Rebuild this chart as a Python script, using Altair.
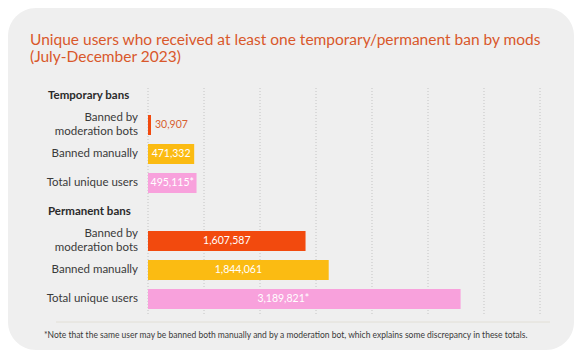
import altair as alt
import pandas as pd

# ---- data ----
groups = ["Temporary bans", "Permanent bans"]
categories = ["Banned by moderation bots", "Banned manually", "Total unique users"]
cat_labels = ["Banned by\nmoderation bots", "Banned manually", "Total unique users"]
temporary = [30907, 471332, 495115]
permanent = [1607587, 1844061, 3189821]
temp_labels = ["30,907", "471,332", "495,115*"]
perm_labels = ["1,607,587", "1,844,061", "3,189,821*"]
grid_values = [0, 571429, 1142857, 1714286, 2285714, 2857143, 3428571, 4000000]
colors = ["#f24a0e", "#fbbb12", "#f8a1dc"]

title_lines = ["Unique users who received at least one temporary/permanent ban by mods",
               "(July-December 2023)"]
footnote = ("*Note that the same user may be banned both manually and by a moderation bot, "
            "which explains some discrepancy in these totals.")

# ---- build table ----
rows = []
order = []
for g, vals, labs in [(groups[0], temporary, temp_labels), (groups[1], permanent, perm_labels)]:
    order.append(g)
    rows.append({"row": g, "kind": "header", "label": g, "cat": None, "value": None, "vlabel": None})
    for c, cl, v, vl in zip(categories, cat_labels, vals, labs):
        key = g + "|" + c
        order.append(key)
        rows.append({"row": key, "kind": "bar", "label": cl, "cat": c, "value": v, "vlabel": vl})
df = pd.DataFrame(rows)

FONT = "Lato"
W, H = 392, 227

xscale = alt.Scale(domain=[0, 4000000], nice=False, zero=True)
yenc = alt.Y("row:N", sort=order,
             scale=alt.Scale(domain=order, range=[-2, 221], paddingInner=0.31, paddingOuter=0),
             axis=None)

base = alt.Chart(df)

bg = alt.Chart(alt.Data(values=[{"a": 1}])).mark_rect(
    cornerRadius=28, fill="#efefef"
).encode(x=alt.value(-140), x2=alt.value(426), y=alt.value(-80), y2=alt.value(262))

grid = alt.Chart(pd.DataFrame({"g": grid_values})).mark_rule(
    color="#c4c4c4", strokeDash=[1, 2], strokeWidth=1
).encode(x=alt.X("g:Q", scale=xscale, axis=None), y=alt.value(0), y2=alt.value(H))

bars = base.transform_filter("datum.kind == 'bar'").mark_bar(height=20).encode(
    x=alt.X("value:Q", scale=xscale, axis=None),
    y=yenc,
    color=alt.Color("cat:N", scale=alt.Scale(domain=categories, range=colors), legend=None),
)

row_labels_1 = base.transform_filter(
    "datum.kind == 'bar' && indexof(datum.label, '\\n') < 0"
).mark_text(
    align="right", baseline="middle", font=FONT, fontSize=11.5, color="#3a3a3a"
).encode(x=alt.value(-10), y=yenc, text="label:N")

row_labels_2 = base.transform_filter(
    "datum.kind == 'bar' && indexof(datum.label, '\\n') >= 0"
).mark_text(
    align="right", baseline="middle", font=FONT, fontSize=11.5, color="#3a3a3a",
    lineBreak="\n", lineHeight=13.5, dy=-6.75
).encode(x=alt.value(-10), y=yenc, text="label:N")

headers = base.transform_filter("datum.kind == 'header'").mark_text(
    align="left", baseline="middle", font=FONT, fontSize=11.5, fontWeight="bold", color="#2a2a2a"
).encode(x=alt.value(-100), y=yenc, text="label:N")

vb = base.transform_filter("datum.kind == 'bar'").transform_calculate(mid="datum.value / 2")

out_lab = vb.transform_filter("datum.value < 100000").mark_text(
    align="left", baseline="middle", font=FONT, fontSize=10.5, color="#d75f30", dx=4
).encode(x=alt.X("value:Q", scale=xscale, axis=None), y=yenc, text="vlabel:N")

in_lab = vb.transform_filter("datum.value >= 100000 && datum.value < 3000000").mark_text(
    align="center", baseline="middle", font=FONT, fontSize=10.5, color="white"
).encode(x=alt.X("mid:Q", scale=xscale, axis=None), y=yenc, text="vlabel:N")

big_lab = vb.transform_filter("datum.value >= 3000000").mark_text(
    align="center", baseline="middle", font=FONT, fontSize=10.5, color="white", dx=-21
).encode(x=alt.X("mid:Q", scale=xscale, axis=None), y=yenc, text="vlabel:N")

title = alt.Chart(alt.Data(values=[{"a": 1}])).mark_text(
    align="left", baseline="alphabetic", font=FONT, fontSize=15.5, color="#d9582b",
    lineHeight=16.5
).encode(x=alt.value(-118), y=alt.value(-43), text=alt.value(title_lines))

sep = alt.Chart(alt.Data(values=[{"a": 1}])).mark_rule(color="#e2dfd6", strokeWidth=1).encode(
    x=alt.value(-92), x2=alt.value(402), y=alt.value(234))

note = alt.Chart(alt.Data(values=[{"a": 1}])).mark_text(
    align="left", baseline="middle", font=FONT, fontSize=8.5, color="#3a3a3a"
).encode(x=alt.value(-104), y=alt.value(247), text=alt.value(footnote))

chart = alt.layer(bg, grid, bars, row_labels_1, row_labels_2, headers, out_lab, in_lab, big_lab,
                  title, sep, note).properties(
    width=W, height=H,
    autosize=alt.AutoSizeParams(type="none"),
    padding={"left": 140, "top": 80, "right": 34, "bottom": 35},
    background="white",
).configure_view(stroke=None)

chart.save("out.html", embed_options={"renderer": "svg", "actions": False})
